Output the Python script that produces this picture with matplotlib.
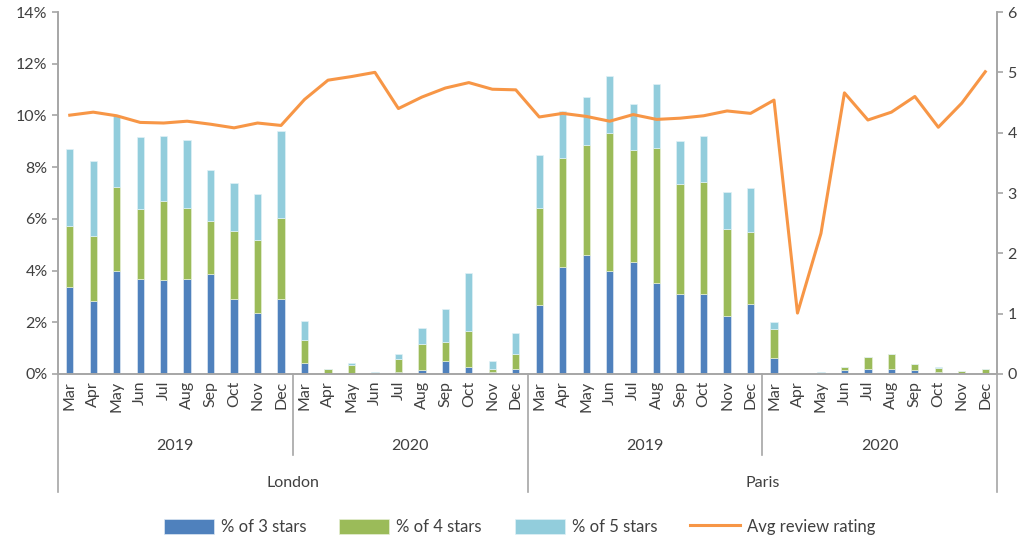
import matplotlib.pyplot as plt
import matplotlib.transforms as mtransforms
import numpy as np

plt.rcParams['font.family'] = ['Lato', 'DejaVu Sans']

# --- data ---
months = ["Mar", "Apr", "May", "Jun", "Jul", "Aug", "Sep", "Oct", "Nov", "Dec"]
years = ["2019", "2020"]
cities = ["London", "Paris"]

# % of reviews (stack components), London 2019, London 2020, Paris 2019, Paris 2020
pct_3 = [3.35, 2.82, 3.99, 3.69, 3.65, 3.66, 3.88, 2.91, 2.37, 2.89,
         0.44, 0.00, 0.00, 0.00, 0.09, 0.17, 0.51, 0.28, 0.09, 0.21,
         2.68, 4.14, 4.60, 3.98, 4.34, 3.51, 3.09, 3.09, 2.25, 2.72,
         0.63, 0.00, 0.00, 0.17, 0.19, 0.19, 0.17, 0.09, 0.00, 0.03]
pct_4 = [2.38, 2.53, 3.25, 2.69, 3.05, 2.75, 2.04, 2.63, 2.82, 3.15,
         0.87, 0.21, 0.36, 0.00, 0.50, 1.00, 0.74, 1.37, 0.10, 0.55,
         3.75, 4.22, 4.27, 5.33, 4.33, 5.24, 4.27, 4.35, 3.37, 2.78,
         1.12, 0.05, 0.00, 0.10, 0.48, 0.58, 0.20, 0.15, 0.10, 0.15]
pct_5 = [2.98, 2.87, 2.74, 2.78, 2.50, 2.63, 1.97, 1.85, 1.77, 3.34,
         0.73, 0.00, 0.07, 0.08, 0.18, 0.60, 1.28, 2.24, 0.31, 0.81,
         2.04, 1.80, 1.83, 2.20, 1.76, 2.46, 1.65, 1.76, 1.41, 1.68,
         0.26, 0.00, 0.06, 0.00, 0.00, 0.00, 0.00, 0.03, 0.00, 0.00]
avg_rating = [4.29, 4.34, 4.28, 4.17, 4.16, 4.19, 4.14, 4.08, 4.16, 4.12,
              4.55, 4.87, 4.93, 5.00, 4.40, 4.59, 4.74, 4.83, 4.72, 4.71,
              4.26, 4.32, 4.27, 4.19, 4.30, 4.22, 4.24, 4.28, 4.36, 4.32,
              4.54, 1.01, 2.33, 4.66, 4.21, 4.34, 4.60, 4.09, 4.49, 5.01]

c_blue = "#4F81BD"
c_green = "#9BBB59"
c_light = "#92CDDC"
c_orange = "#F79646"
c_axis = "#A6A6A6"
c_text = "#404040"

x = np.arange(len(pct_3))
b3 = np.array(pct_3)
b4 = np.array(pct_4)
b5 = np.array(pct_5)

fig = plt.figure(figsize=(10.25, 5.41), dpi=100)
ax = fig.add_axes([0.0566, 0.3087, 0.9161, 0.6691])
ax2 = ax.twinx()

w = 0.31
ax.bar(x, b3, w, color=c_blue, edgecolor="#DDE8F3", linewidth=0.5, label="% of 3 stars")
ax.bar(x, b4, w, bottom=b3, color=c_green, edgecolor="#E6EFD6", linewidth=0.5, label="% of 4 stars")
ax.bar(x, b5, w, bottom=b3 + b4, color=c_light, edgecolor="#E0F1F6", linewidth=0.5, label="% of 5 stars")
ax2.plot(x, avg_rating, color=c_orange, linewidth=2.2, label="Avg review rating")

ax.set_xlim(-0.5, len(x) - 0.5)
ax.set_ylim(0, 14)
ax.set_yticks(range(0, 15, 2))
ax.set_yticklabels([f"{v}%" for v in range(0, 15, 2)])
ax2.set_ylim(0, 6)
ax2.set_yticks(range(0, 7))

for a in (ax, ax2):
    for s in a.spines.values():
        s.set_color(c_axis)
        s.set_linewidth(1.2)
    a.spines["top"].set_visible(False)
ax.tick_params(axis="y", colors=c_axis, labelcolor=c_text, labelsize=11.5, length=4, width=1.2)
ax2.tick_params(axis="y", colors=c_axis, labelcolor=c_text, labelsize=11.5, length=4, width=1.2)

# month labels
ax.set_xticks(x)
ax.set_xticklabels(months * 4, rotation=90, fontsize=11.5, color=c_text)
ax.tick_params(axis="x", length=0, pad=5)

# multi-level category axis
trans = mtransforms.blended_transform_factory(ax.transData, ax.transAxes)
for i in range(5):
    xb = i * 10 - 0.5
    yend = -0.326 if i % 2 == 0 else -0.224
    ax.plot([xb, xb], [0, yend], transform=trans, color=c_axis, linewidth=1.2, clip_on=False)
for i in range(4):
    ax.text(i * 10 + 4.5, -0.2, years[i % 2], transform=trans, ha="center", va="center",
            fontsize=11.5, color=c_text)
for i in range(2):
    ax.text(i * 20 + 9.5, -0.3, cities[i], transform=trans, ha="center", va="center",
            fontsize=11.5, color=c_text)

h1, l1 = ax.get_legend_handles_labels()
h2, l2 = ax2.get_legend_handles_labels()
fig.legend(h1 + h2, l1 + l2, loc="center", bbox_to_anchor=(0.507, 0.026), ncol=4,
           frameon=False, fontsize=12, handlelength=3.0, handleheight=1.0,
           handletextpad=0.4, columnspacing=2.0, labelcolor=c_text)

fig.savefig("out.png", dpi=100)
